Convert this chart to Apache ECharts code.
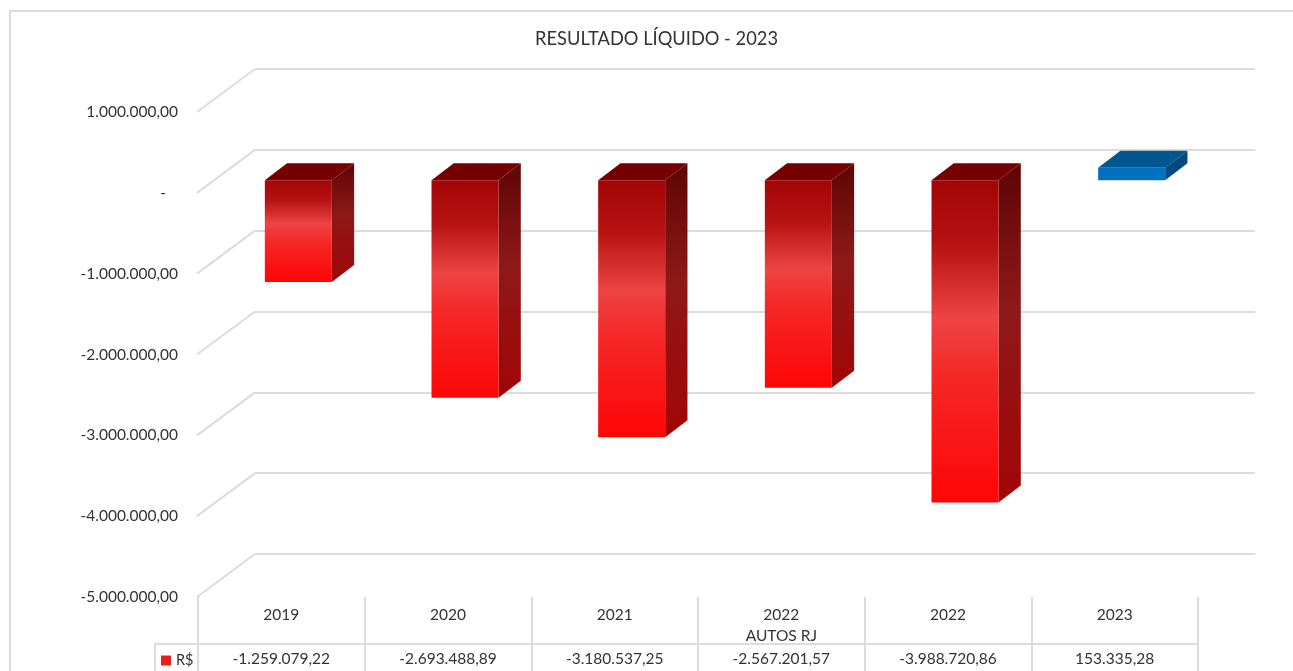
<!DOCTYPE html>
<html><head><meta charset="utf-8">
<style>html,body{margin:0;padding:0;background:#fff}#c{width:1293px;height:671px}</style>
<script src="https://cdn.jsdelivr.net/npm/echarts@6/dist/echarts.min.js"></script>
</head><body><div id="c"></div>
<script>
const categories = ['2019','2020','2021','2022\nAUTOS RJ','2022','2023'];
const values = [-1259079.22,-2693488.89,-3180537.25,-2567201.57,-3988720.86,153335.28];
const valueTicks = [1000000,0,-1000000,-2000000,-3000000,-4000000,-5000000];
const seriesName = 'R$';
const titleText = 'RESULTADO LÍQUIDO - 2023';

const FONT = 'Lato';
const TEXT = '#333333', GRID = '#dcdcdc';
const fmt = (v, d) => {
  const neg = v < 0; const s = Math.abs(v).toFixed(d).split('.');
  const i = s[0].replace(/\B(?=(\d{3})+(?!\d))/g, '.');
  return (neg ? '-' : '') + i + (d ? ',' + s[1] : '');
};
const valueLabels = values.map(v => fmt(v, 2));
const vgrad = (stops) => new echarts.graphic.LinearGradient(0,0,0,1,stops.map(s=>({offset:s[0],color:s[1]})));

const chart = echarts.init(document.getElementById('c'), null, {renderer:'canvas'});
chart.setOption({
  animation:false,
  backgroundColor:'#fff',
  title:{text:titleText,left:651.5,top:25,textAlign:'center',textStyle:{fontFamily:FONT,fontSize:18.3,fontWeight:'normal',color:TEXT}},
  legend:{data:[{name:seriesName,icon:'rect',itemStyle:{color:'#ee1c1c'}}],left:161,top:653,padding:0,itemWidth:10,itemHeight:10,itemGap:4,
    textStyle:{fontFamily:FONT,fontSize:14.5,color:TEXT},selectedMode:false},
  grid:[{left:198,width:1000,top:112,height:485},{left:255,width:1000,top:69,height:485}],
  xAxis:[
    {type:'category',gridIndex:0,data:categories,axisLine:{show:false,onZero:false},
     axisTick:{show:true,length:75,interval:0,lineStyle:{color:GRID,width:2}},
     axisLabel:{interval:0,margin:7,fontFamily:FONT,fontSize:15.5,color:TEXT,lineHeight:21,verticalAlign:'top'},splitLine:{show:false}},
    {type:'category',gridIndex:0,position:'bottom',offset:47,data:valueLabels,
     axisLine:{show:true,onZero:false,lineStyle:{color:GRID,width:2}},axisTick:{show:false},
     axisLabel:{interval:0,margin:7,fontFamily:FONT,fontSize:15.5,color:TEXT,verticalAlign:'top'}},
    {type:'category',gridIndex:1,data:categories,show:false}
  ],
  yAxis:[
    {type:'value',gridIndex:0,min:-5000000,max:1000000,interval:1000000,axisLine:{show:false},axisTick:{show:false},splitLine:{show:false},
     axisLabel:{margin:20,fontFamily:FONT,fontSize:15.5,color:TEXT,formatter:v=>v===0?'-\u00a0\u00a0\u00a0':fmt(v,2)}},
    {type:'value',gridIndex:1,min:-5000000,max:1000000,interval:1000000,axisLine:{show:false},axisTick:{show:false},axisLabel:{show:false},
     splitLine:{show:true,lineStyle:{color:GRID,width:2}}}
  ],
  series:[
    {type:'custom',silent:true,xAxisIndex:0,yAxisIndex:0,z:1,legendHoverLink:false,
     data:valueTicks.map(v=>[0,v]),
     renderItem(params,api){
       const p=api.coord([0,api.value(1)]);
       const x0=198;
       return {type:'line',shape:{x1:x0-1,y1:p[1],x2:x0+57,y2:p[1]-43},style:{stroke:GRID,lineWidth:2,fill:null}};
     }},
    {type:'custom',name:seriesName,silent:true,xAxisIndex:0,yAxisIndex:0,z:3,
     data:values.map((v,i)=>[i,v]),
     encode:{x:0,y:1},
     renderItem(params,api){
       const v=api.value(1), c=api.coord([api.value(0),v]), z=api.coord([api.value(0),0]);
       const w=api.size([1,0])[0]*0.402, sx=17, sy=12.7, dx=22.3, dy=17;
       const xl=c[0]+sx-w/2, xr=xl+w, yz=z[1]-sy, yv=c[1]-sy;
       const top=Math.min(yz,yv), bot=Math.max(yz,yv);
       const neg=v<0;
       const front=neg?vgrad([[0,'#a00000'],[.2,'#b50e0e'],[.43,'#ee4040'],[.6,'#f42424'],[1,'#ff0000']]):'#0070c0';
       const topC=neg?'#760000':'#00568f';
       const side=neg?vgrad([[0,'#5a0000'],[.43,'#8c1414'],[1,'#a00000']]):'#004a80';
       const o=neg?0.98:1;
       return {type:'group',children:[
         {type:'polygon',shape:{points:[[xr,top],[xr+dx,top-dy],[xr+dx,bot-dy],[xr,bot]]},style:{fill:side,opacity:o}},
         {type:'polygon',shape:{points:[[xl,top],[xl+dx,top-dy],[xr+dx,top-dy],[xr,top]]},style:{fill:topC}},
         {type:'rect',shape:{x:xl,y:top,width:w,height:bot-top},style:{fill:front,opacity:o}}
       ]};
     }}
  ],
  graphic:[
    {type:'polyline',silent:true,shape:{points:[[10,671],[10,11],[1293,11]]},style:{stroke:GRID,lineWidth:2,fill:null}},
    {type:'polyline',silent:true,shape:{points:[[198,644],[155,644],[155,671]]},style:{stroke:GRID,lineWidth:2,fill:null}}
  ]
});
</script></body></html>
